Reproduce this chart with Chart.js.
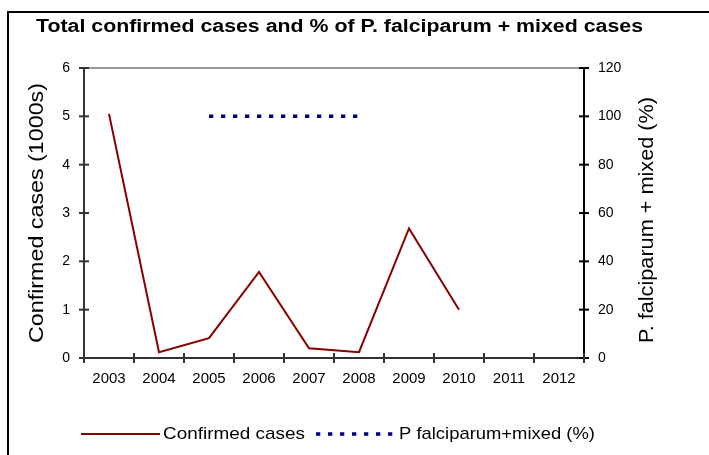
<!DOCTYPE html>
<html>
<head>
<meta charset="utf-8">
<script src="https://cdn.jsdelivr.net/npm/chart.js@4/dist/chart.umd.min.js"></script>
<style>
html,body{margin:0;padding:0;background:#fff;}
#wrap{width:709px;height:455px;position:relative;}
</style>
</head>
<body>
<div id="wrap"><canvas id="c" width="709" height="455"></canvas></div>
<script>
// ---- data ----
const years = ["2003","2004","2005","2006","2007","2008","2009","2010","2011","2012"];
const confirmedCases = [5.05, 0.12, 0.41, 1.78, 0.2, 0.12, 2.68, 1.0, null, null];
const pfMixedPct = [null, null, 100, 100, 100, 100, null, null, null, null];
const leftTicks = [0, 1, 2, 3, 4, 5, 6];
const rightTicks = [0, 20, 40, 60, 80, 100, 120];
const chartTitle = "Total confirmed cases and % of P. falciparum + mixed cases";
const leftAxisTitle = "Confirmed cases (1000s)";
const rightAxisTitle = "P. falciparum + mixed (%)";
const legendLabels = ["Confirmed cases", "P falciparum+mixed (%)"];

const FONT = '"Liberation Sans", Arial, sans-serif';

function stretchText(ctx, text, x, y, font, targetW, rot) {
  ctx.save();
  ctx.font = font;
  const w = ctx.measureText(text).width;
  ctx.translate(x, y);
  if (rot) ctx.rotate(rot);
  ctx.scale(targetW / w, 1);
  ctx.fillText(text, 0, 0);
  ctx.restore();
}

const decor = {
  id: 'decor',
  beforeDraw(chart) {
    const ctx = chart.ctx;
    ctx.save();
    ctx.fillStyle = '#fff';
    ctx.fillRect(0, 0, chart.width, chart.height);
    ctx.restore();
  },
  afterDraw(chart) {
    const {ctx, chartArea: a, scales} = chart;
    ctx.save();
    // outer frame
    ctx.strokeStyle = '#000';
    ctx.lineWidth = 2;
    ctx.beginPath();
    ctx.moveTo(8, chart.height);
    ctx.lineTo(8, 12);
    ctx.lineTo(chart.width, 12);
    ctx.stroke();

    // cross tick marks
    ctx.lineWidth = 2;
    ctx.strokeStyle = '#333';
    scales.y.ticks.forEach(t => {
      const p = scales.y.getPixelForValue(t.value);
      ctx.beginPath(); ctx.moveTo(a.left - 5, p); ctx.lineTo(a.left + 5, p); ctx.stroke();
    });
    ctx.strokeStyle = '#000';
    scales.y1.ticks.forEach(t => {
      const p = scales.y1.getPixelForValue(t.value);
      ctx.beginPath(); ctx.moveTo(a.right - 5, p); ctx.lineTo(a.right + 5, p); ctx.stroke();
    });
    ctx.strokeStyle = '#333';
    const n = scales.x.ticks.length;
    for (let i = 0; i <= n; i++) {
      const p = scales.x.left + i * (scales.x.width / n);
      ctx.beginPath(); ctx.moveTo(p, a.bottom - 5); ctx.lineTo(p, a.bottom + 5); ctx.stroke();
    }

    // title
    ctx.fillStyle = '#000';
    ctx.textBaseline = 'middle';
    ctx.textAlign = 'left';
    stretchText(ctx, chartTitle, 36, 27, 'bold 18px ' + FONT, 607, 0);

    // axis titles
    ctx.textAlign = 'center';
    stretchText(ctx, leftAxisTitle, 37, (a.top + a.bottom) / 2, '20px ' + FONT, 260, -Math.PI / 2);
    stretchText(ctx, rightAxisTitle, 647, 220, '20px ' + FONT, 246, -Math.PI / 2);

    // legend
    const ly = 434;
    const ds = chart.data.datasets;
    ctx.textAlign = 'left';
    ctx.strokeStyle = ds[0].borderColor;
    ctx.lineWidth = ds[0].borderWidth;
    ctx.setLineDash([]);
    ctx.beginPath(); ctx.moveTo(81, ly); ctx.lineTo(160, ly); ctx.stroke();
    ctx.fillStyle = '#000';
    stretchText(ctx, ds[0].label, 163, ly, '17px ' + FONT, 142, 0);
    ctx.strokeStyle = ds[1].borderColor;
    ctx.lineWidth = ds[1].borderWidth;
    ctx.setLineDash(ds[1].borderDash);
    ctx.beginPath(); ctx.moveTo(316, ly); ctx.lineTo(395, ly); ctx.stroke();
    ctx.setLineDash([]);
    stretchText(ctx, ds[1].label, 399, ly, '17px ' + FONT, 196, 0);
    ctx.restore();
  }
};

new Chart(document.getElementById('c'), {
  type: 'line',
  data: {
    labels: years,
    datasets: [
      {
        label: legendLabels[0],
        data: confirmedCases,
        yAxisID: 'y',
        borderColor: '#880000',
        borderWidth: 2,
        pointRadius: 0,
        fill: false,
        tension: 0,
        spanGaps: false
      },
      {
        label: legendLabels[1],
        data: pfMixedPct,
        yAxisID: 'y1',
        borderColor: '#000080',
        borderWidth: 3.5,
        borderDash: [4.3, 7.7],
        borderCapStyle: 'butt',
        pointRadius: 0,
        fill: false,
        tension: 0
      }
    ]
  },
  options: {
    responsive: false,
    animation: false,
    devicePixelRatio: 1,
    layout: { padding: { top: 68, left: 0, right: 0, bottom: 0 } },
    plugins: {
      legend: { display: false },
      title: { display: false },
      tooltip: { enabled: false }
    },
    scales: {
      x: {
        type: 'category',
        offset: true,
        grid: { display: false, drawTicks: false },
        border: { display: true, color: '#333', width: 2 },
        ticks: {
          color: '#000',
          font: { family: FONT, size: 15 },
          padding: 12,
          maxRotation: 0,
          autoSkip: false
        },
        afterFit(s) { s.height = 97; }
      },
      y: {
        position: 'left',
        min: 0, max: 6,
        afterBuildTicks(s) { s.ticks = leftTicks.map(v => ({value: v})); },
        grid: {
          drawTicks: false,
          color: c => (c.tick && c.tick.value === 6) ? '#999' : 'rgba(0,0,0,0)',
          lineWidth: 2
        },
        border: { display: true, color: '#333', width: 2 },
        ticks: {
          color: '#000',
          font: { family: FONT, size: 14 },
          padding: 14
        },
        afterFit(s) { s.width = 84; }
      },
      y1: {
        position: 'right',
        min: 0, max: 120,
        afterBuildTicks(s) { s.ticks = rightTicks.map(v => ({value: v})); },
        grid: { display: false, drawTicks: false },
        border: { display: true, color: '#000', width: 2 },
        ticks: {
          color: '#000',
          font: { family: FONT, size: 14 },
          padding: 14
        },
        afterFit(s) { s.width = 125; }
      }
    }
  },
  plugins: [decor]
});
</script>
</body>
</html>
